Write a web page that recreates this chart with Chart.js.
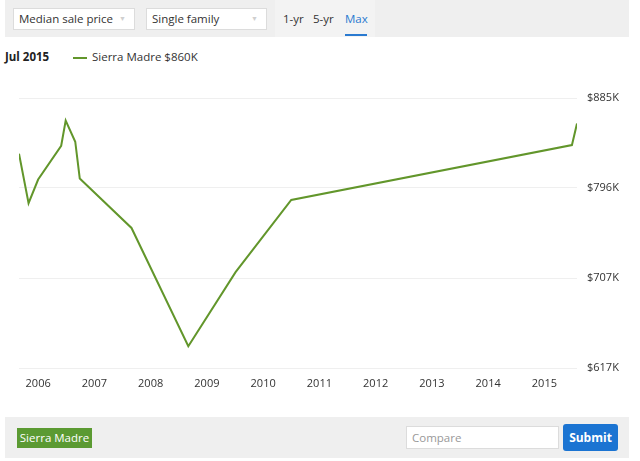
<!DOCTYPE html>
<html>
<head>
<meta charset="utf-8">
<script src="https://cdn.jsdelivr.net/npm/chart.js@4/dist/chart.umd.min.js"></script>
<style>
  html, body { margin:0; padding:0; width:640px; height:461px; background:#fff; overflow:hidden;
    font-family:"Open Sans", "Noto Sans", sans-serif; color:#333; }
  .abs { position:absolute; }
  #topbar { left:5px; top:0; width:624px; height:37px; background:#efefef; }
  #tabs { left:275px; top:0; width:100px; height:37px; background:#f3f3f3; }
  .dd { top:8px; height:22px; background:#fff; border:1px solid #dcdcdc; box-sizing:border-box;
    font-size:11.5px; line-height:20px; padding-left:5px; color:#333; }
  .dd .caret { position:absolute; right:8px; top:0; color:#cfcfcf; font-size:7px; }
  .tab { top:10px; font-size:11.5px; color:#333; line-height:17px; }
  #maxline { left:345px; top:34px; width:22px; height:2px; background:#2a7ad0; }
  #date { left:5px; top:49px; font-size:11.5px; font-weight:bold; color:#222; line-height:16px; }
  #legline { left:73px; top:57px; width:14px; height:2px; background:#62962b; }
  #legtxt { left:92px; top:49px; font-size:11.5px; color:#333; line-height:16px; }
  #chartbox { left:0; top:70px; width:640px; height:330px; }
  #botbar { left:5px; top:417px; width:624px; height:41px; background:#efefef; }
  #smbtn { left:17px; top:428px; width:75px; height:20px; background:#5b9a32; color:#fff;
    font-size:11.5px; line-height:20px; text-align:center; }
  #compare { left:406px; top:426px; width:153px; height:23px; background:#fff; border:1px solid #dcdcdc;
    box-sizing:border-box; font-size:11.5px; line-height:21px; color:#999; padding-left:5px; }
  #submit { left:563px; top:424px; width:55px; height:27px; background:#1b74d2; color:#fff; border-radius:3px;
    font-size:12px; font-weight:bold; line-height:27px; text-align:center; }
</style>
</head>
<body>
<div id="topbar" class="abs"></div>
<div id="tabs" class="abs"></div>
<div class="abs dd" style="left:13px;width:122px;">Median sale price<span class="caret">▼</span></div>
<div class="abs dd" style="left:146px;width:121px;">Single family<span class="caret">▼</span></div>
<div class="abs tab" style="left:283px;">1-yr</div>
<div class="abs tab" style="left:313px;">5-yr</div>
<div class="abs tab" style="left:345px;color:#2a7ad0;">Max</div>
<div id="maxline" class="abs"></div>
<div id="date" class="abs">Jul 2015</div>
<div id="legline" class="abs"></div>
<div id="legtxt" class="abs">Sierra Madre $860K</div>
<div id="chartbox" class="abs"><canvas id="c" width="640" height="330"></canvas></div>
<div id="botbar" class="abs"></div>
<div id="smbtn" class="abs">Sierra Madre</div>
<div id="compare" class="abs">Compare</div>
<div id="submit" class="abs">Submit</div>
<script>
// Data: decimal-year positions and median sale price (thousands of $)
const dates  = [2005.66, 2005.83, 2006.00, 2006.41, 2006.49, 2006.66, 2006.74, 2007.66, 2008.67, 2009.51, 2010.50, 2015.49, 2015.58];
const prices = [830, 781, 804.5, 838, 863, 842, 805.5, 756.4, 639, 712.5, 784.2, 838.7, 860];
const yearTicks = [2006, 2007, 2008, 2009, 2010, 2011, 2012, 2013, 2014, 2015];
const priceTicks = [617.4, 706.7, 796.1, 885.4];
const priceTickLabels = ["$617K", "$707K", "$796K", "$885K"];
const seriesName = "Sierra Madre";

const points = dates.map((d, i) => ({ x: d, y: prices[i] }));

new Chart(document.getElementById('c'), {
  type: 'line',
  data: { datasets: [{ label: seriesName, data: points, borderColor: '#62962b', borderWidth: 2,
    pointRadius: 0, tension: 0, fill: false }] },
  options: {
    responsive: false, animation: false,
    layout: { padding: { left: 19, top: 28, right: 0, bottom: 0 } },
    plugins: { legend: { display: false }, tooltip: { enabled: false } },
    scales: {
      x: {
        type: 'linear', min: dates[0], max: dates[dates.length - 1],
        afterBuildTicks: s => { s.ticks = yearTicks.map(v => ({ value: v })); },
        afterFit: s => { s.height = 32; },
        grid: { display: false, drawTicks: false },
        border: { display: false },
        ticks: { padding: 9, maxRotation: 0, autoSkip: false, color: '#333',
          font: { family: '"Open Sans", sans-serif', size: 11 }, callback: v => String(v) }
      },
      y: {
        position: 'right', min: priceTicks[0], max: priceTicks[priceTicks.length - 1],
        afterBuildTicks: s => { s.ticks = priceTicks.map(v => ({ value: v })); },
        afterFit: s => { s.width = 63; },
        grid: { color: '#efefef', lineWidth: 1, drawTicks: false },
        border: { display: false },
        ticks: { padding: 10, color: '#333', font: { family: '"Open Sans", sans-serif', size: 11 },
          callback: (v, i) => priceTickLabels[i] }
      }
    }
  }
});
</script>
</body>
</html>
